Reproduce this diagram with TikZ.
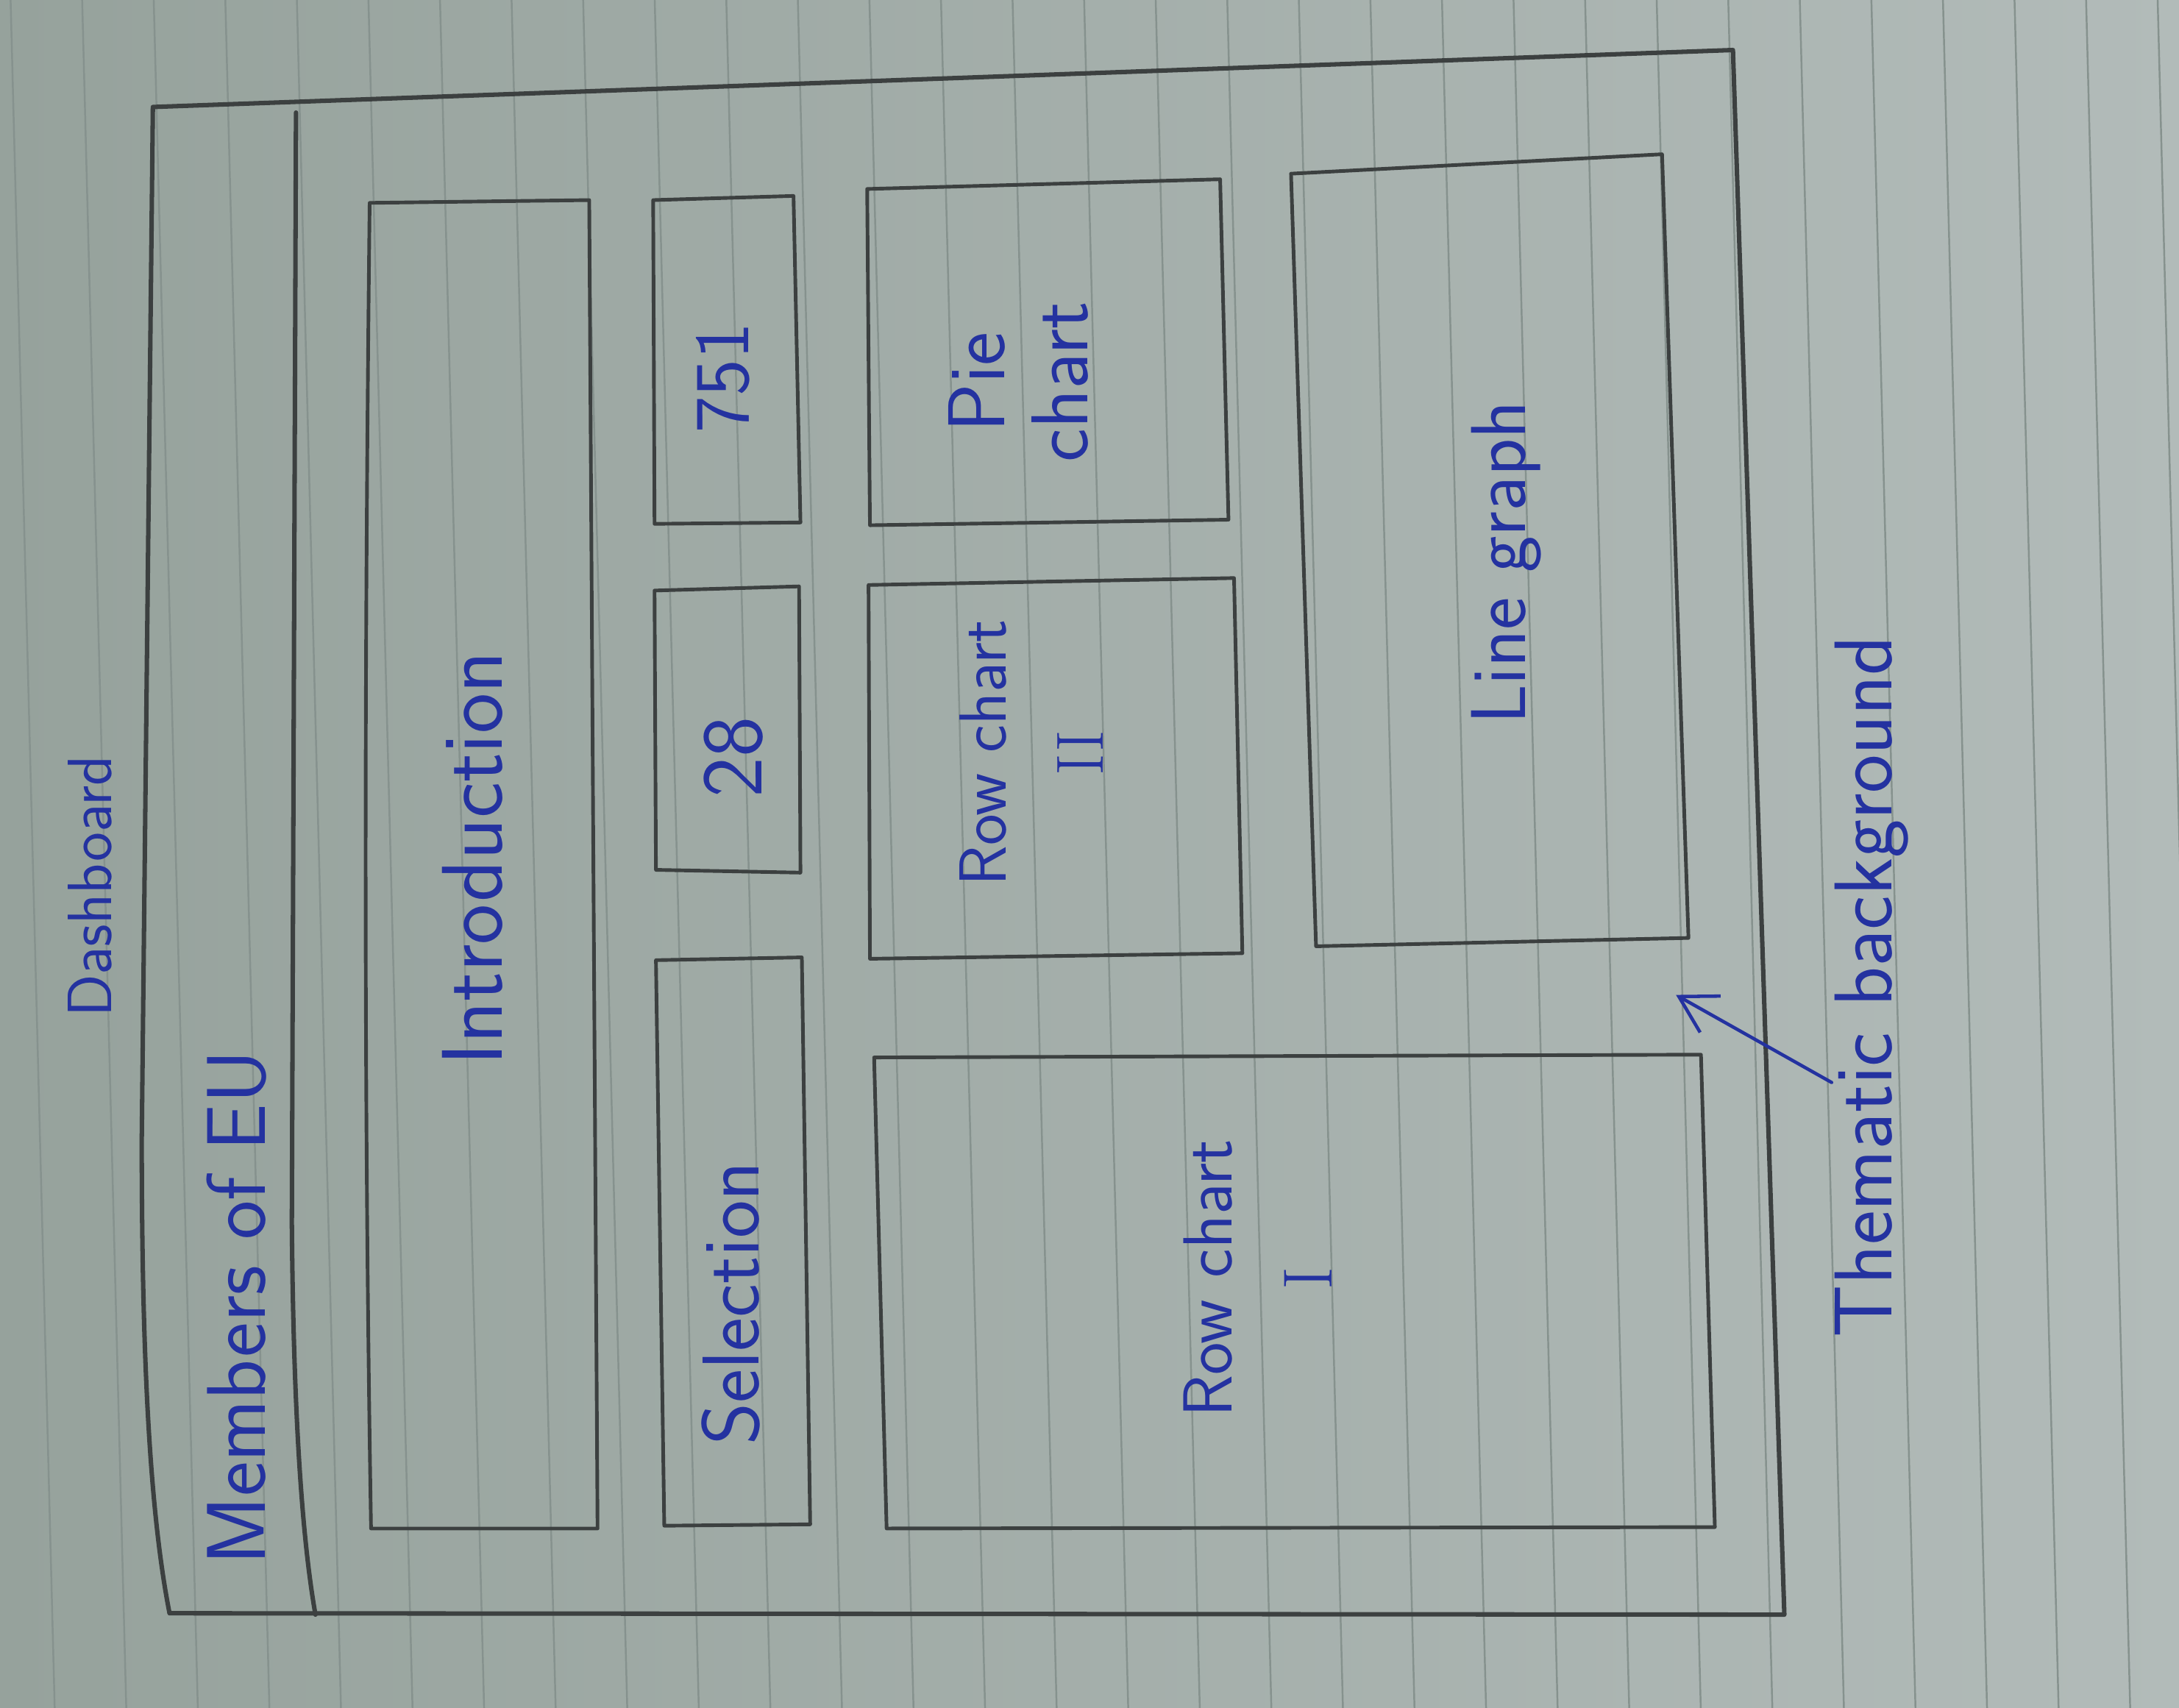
\documentclass[tikz,border=0pt]{standalone}
\usepackage{fontspec}
\usetikzlibrary{arrows.meta}
\definecolor{paperL}{RGB}{150,162,156}
\definecolor{paperR}{RGB}{178,187,185}
\definecolor{ruleline}{RGB}{134,146,142}
\definecolor{pencil}{RGB}{60,64,64}
\definecolor{ink}{RGB}{36,50,160}
\tikzset{
  outerframe/.style={draw=pencil, line width=3.2pt, line join=round, line cap=round},
  panel/.style={draw=pencil, line width=2.6pt, line join=round, line cap=round},
  inktext/.style={text=ink, rotate=90, align=center, inner sep=0pt,
    font=\sffamily\fontsize{56}{66}\selectfont},
  smalltext/.style={inktext, font=\sffamily\fontsize{48}{70}\selectfont},
  inkarrow/.style={draw=ink, line width=2.4pt, line cap=round,
    -{Straight Barb[length=26pt,width=30pt,line width=2.4pt]}},
}
\begin{document}
\begin{tikzpicture}[x=1pt,y=-1pt]
% paper
\shade[left color=paperL, right color=paperR] (0,0) rectangle (1568,1229);
\useasboundingbox (0,0) rectangle (1568,1229);
\begin{scope}
  \clip (0,0) rectangle (1568,1229);
  \foreach \k in {-3,...,27}{
    \draw[ruleline, line width=1.3pt] ({162+51.5*\k},-5) -- ({194+51.5*\k},1235);
  }
\end{scope}

% outer frame (page of the dashboard)
\draw[outerframe] (110,77) -- (1247,36) -- (1284,1162) -- (122,1161)
  .. controls (108,1090) and (102,980) .. (102,820) -- cycle;
% left strip divider
\draw[outerframe] (213,81) -- (210,880) .. controls (211,1000) and (216,1100) .. (227,1162);

% panels
\draw[panel] (266,146) -- (424,144) -- (430,1100) -- (267,1100) .. controls (262,800) and (262,500) .. cycle;
\draw[panel] (470,144) -- (571,141) -- (576,376) -- (471,377) -- cycle;
\draw[panel] (471,425) -- (575,422) -- (576,628) -- (472,626) -- cycle;
\draw[panel] (472,691) -- (577,689) -- (583,1097) -- (478,1098) -- cycle;
\draw[panel] (624,136) -- (878,129) -- (884,374) -- (626,378) -- cycle;
\draw[panel] (625,421) -- (888,416) -- (894,686) -- (626,690) -- cycle;
\draw[panel] (629,761) -- (1224,759) -- (1234,1099) -- (638,1100) -- cycle;
\draw[panel] (929,125) -- (1196,111) -- (1215,675) -- (947,681) -- cycle;

% texts
\node[inktext, font=\sffamily\fontsize{45}{50}\selectfont] (dashboard) at (65,638) {Dashboard};
\node[inktext, font=\sffamily\fontsize{60}{66}\selectfont] (members) at (170,941) {Members of EU};
\node[inktext, font=\sffamily\fontsize{62}{66}\selectfont] (intro) at (340,618) {Introduction};
\node[inktext] (n751) at (520,272) {751};
\node[inktext, font=\sffamily\fontsize{62}{66}\selectfont] (n28) at (528,545) {28};
\node[inktext, font=\sffamily\fontsize{58}{66}\selectfont] (selection) at (526,938) {Selection};
\node[inktext, font=\sffamily\fontsize{58}{60}\selectfont] (pie) at (733,275) {Pie\\chart};
\node[smalltext] (row2) at (742,542) {Row chart\\{\rmfamily II}};
\node[smalltext, font=\sffamily\fontsize{50}{72}\selectfont] (row1) at (905,920) {Row chart\\{\rmfamily I}};
\node[inktext] (line) at (1084,405) {Line graph};
\node[inktext, font=\sffamily\fontsize{59}{66}\selectfont] (thematic) at (1347,710) {Thematic background};

% arrow to the background
\coordinate (arrowtail) at (1318,779);
\coordinate (arrowtip) at (1206,716);
\draw[inkarrow] (arrowtail) -- (arrowtip);
\end{tikzpicture}
\end{document}
